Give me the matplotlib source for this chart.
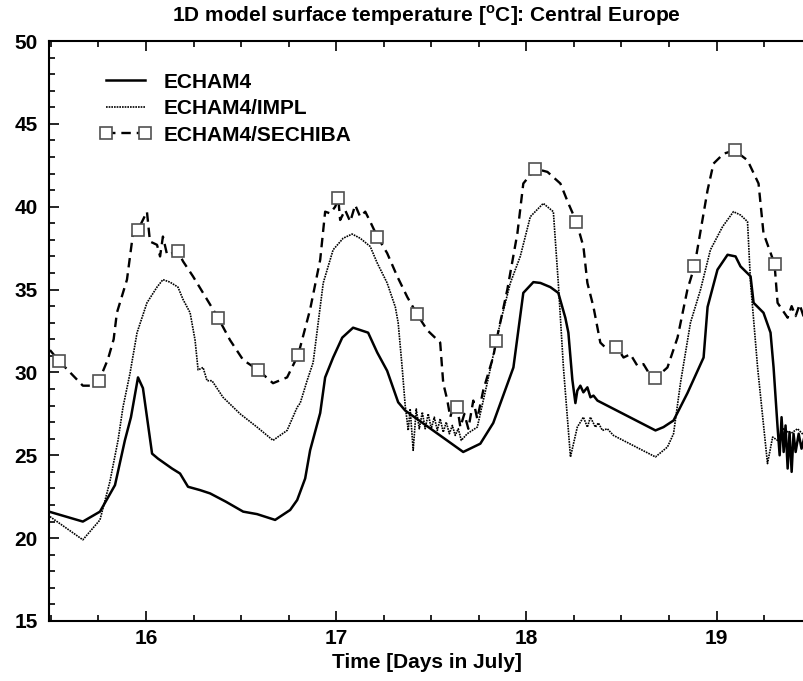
import matplotlib
matplotlib.use("Agg")
import matplotlib.pyplot as plt
from matplotlib.ticker import MultipleLocator

plt.rcParams['font.family'] = ['Liberation Sans', 'DejaVu Sans']
plt.rcParams['font.weight'] = 'bold'

# --- Daten ---
echam_day = [15.49, 15.668, 15.758, 15.837, 15.889, 15.921, 15.958, 15.984, 16.032, 16.063,
             16.137, 16.179, 16.221, 16.284, 16.337, 16.42, 16.511, 16.584, 16.679, 16.758,
             16.795, 16.837, 16.863, 16.916, 16.942, 16.984, 17.032, 17.089, 17.168, 17.216,
             17.268, 17.326, 17.363, 17.668, 17.758, 17.826, 17.932, 17.984, 18.037, 18.074,
             18.126, 18.168, 18.205, 18.221, 18.242, 18.258, 18.268, 18.284, 18.300, 18.321,
             18.337, 18.353, 18.374, 18.679, 18.721, 18.774, 18.847, 18.932, 18.953, 19.005,
             19.058, 19.100, 19.126, 19.179, 19.195, 19.247, 19.284, 19.300, 19.321, 19.332,
             19.342, 19.353, 19.363, 19.374, 19.384, 19.395, 19.405, 19.416, 19.432, 19.447, 19.46]
echam_t = [21.6, 21.0, 21.6, 23.2, 25.9, 27.3, 29.7, 29.05, 25.1, 24.8,
           24.2, 23.9, 23.1, 22.9, 22.7, 22.2, 21.6, 21.45, 21.1, 21.7,
           22.3, 23.6, 25.3, 27.55, 29.7, 30.9, 32.1, 32.7, 32.4, 31.2,
           30.1, 28.2, 27.7, 25.2, 25.7, 26.95, 30.3, 34.8, 35.45, 35.4,
           35.15, 34.8, 33.3, 32.4, 29.55, 28.15, 28.9, 29.2, 28.8, 29.1,
           28.5, 28.6, 28.3, 26.5, 26.7, 27.1, 28.75, 30.9, 33.95, 36.2,
           37.1, 37.0, 36.4, 35.8, 34.2, 33.6, 32.4, 30.3, 26.7, 25.0,
           27.3, 25.2, 26.8, 24.2, 26.4, 24.0, 26.3, 25.2, 26.3, 25.4, 26.0]

impl_day = [15.495, 15.668, 15.758, 15.81, 15.853, 15.879, 15.916, 15.953, 16.005, 16.058,
            16.089, 16.126, 16.168, 16.195, 16.232, 16.258, 16.274, 16.3, 16.321, 16.347,
            16.405, 16.495, 16.584, 16.668, 16.742, 16.795, 16.811, 16.847, 16.879, 16.932,
            16.984, 17.037, 17.084, 17.126, 17.179, 17.216, 17.268, 17.311, 17.326, 17.347,
            17.363, 17.379, 17.389, 17.405, 17.421, 17.437, 17.453, 17.468, 17.484, 17.5,
            17.516, 17.532, 17.547, 17.563, 17.579, 17.595, 17.611, 17.626, 17.642, 17.658,
            17.689, 17.742, 17.795, 17.863, 17.916, 17.968, 18.021, 18.089, 18.142, 18.168,
            18.195, 18.232, 18.268, 18.3, 18.321, 18.337, 18.363, 18.379, 18.4, 18.426,
            18.458, 18.679, 18.742, 18.774, 18.811, 18.863, 18.916, 18.968, 19.032, 19.089,
            19.126, 19.163, 19.179, 19.216, 19.268, 19.295, 19.321, 19.353, 19.389, 19.426, 19.46]
impl_t = [21.3, 19.9, 21.1, 23.4, 25.9, 27.9, 29.95, 32.4, 34.2, 35.15,
          35.6, 35.45, 35.15, 34.4, 33.6, 31.95, 30.15, 30.3, 29.5, 29.5,
          28.5, 27.5, 26.7, 25.9, 26.5, 27.9, 28.15, 29.5, 30.6, 35.4,
          37.4, 38.1, 38.35, 38.1, 37.6, 36.6, 35.4, 33.95, 33.0, 30.3,
          28.0, 26.5, 27.8, 25.3, 27.8, 26.6, 27.6, 26.6, 27.5, 26.6,
          27.3, 26.5, 27.2, 26.4, 27.0, 26.3, 26.8, 26.2, 26.6, 25.9,
          26.3, 26.7, 29.4, 33.0, 35.4, 37.0, 39.4, 40.2, 39.7, 35.4,
          30.3, 24.9, 26.7, 27.3, 26.7, 27.3, 26.7, 26.95, 26.5, 26.6,
          26.2, 24.9, 25.5, 26.3, 29.4, 33.0, 35.0, 37.4, 38.8, 39.7,
          39.5, 39.1, 35.4, 30.3, 24.5, 26.1, 25.9, 26.6, 26.3, 26.6, 26.2]

sech_day = [15.495, 15.542, 15.668, 15.721, 15.753, 15.8, 15.83, 15.847, 15.9, 15.932,
            15.958, 16.005, 16.021, 16.058, 16.074, 16.089, 16.111, 16.168, 16.195, 16.247,
            16.3, 16.379, 16.442, 16.511, 16.589, 16.668, 16.742, 16.8, 16.863, 16.916,
            16.942, 16.968, 16.995, 17.011, 17.021, 17.047, 17.074, 17.1, 17.126, 17.153,
            17.179, 17.216, 17.268, 17.321, 17.374, 17.426, 17.479, 17.547, 17.563, 17.584,
            17.6, 17.621, 17.637, 17.653, 17.674, 17.695, 17.721, 17.742, 17.774, 17.826,
            17.842, 17.9, 17.953, 17.984, 18.047, 18.111, 18.179, 18.221, 18.263, 18.3,
            18.321, 18.353, 18.389, 18.416, 18.474, 18.511, 18.547, 18.584, 18.616, 18.653,
            18.679, 18.742, 18.795, 18.847, 18.884, 18.953, 18.984, 19.037, 19.095, 19.163,
            19.221, 19.247, 19.305, 19.321, 19.374, 19.395, 19.416, 19.437, 19.46]
sech_t = [31.35, 30.7, 29.2, 29.2, 29.5, 30.8, 32.0, 33.6, 35.6, 38.4,
          38.6, 39.7, 37.9, 37.7, 37.0, 38.2, 37.1, 37.3, 36.7, 35.8,
          34.8, 33.3, 31.95, 30.75, 30.15, 29.35, 29.7, 31.05, 33.8, 36.8,
          39.7, 39.6, 40.0, 40.5, 39.2, 39.8, 39.1, 40.1, 39.4, 39.7,
          39.1, 38.2, 37.2, 35.8, 34.55, 33.5, 32.55, 31.8, 29.35, 28.35,
          27.3, 28.2, 27.9, 26.7, 27.5, 26.6, 28.3, 27.2, 28.95, 30.95,
          31.9, 35.0, 38.4, 41.4, 42.3, 42.1, 41.4, 40.2, 39.1, 37.6,
          35.4, 33.95, 31.8, 31.5, 31.55, 30.9, 31.1, 30.4, 30.5, 29.8,
          29.65, 30.3, 32.1, 35.0, 36.4, 41.0, 42.6, 43.2, 43.4, 42.8,
          41.4, 38.4, 36.55, 34.2, 33.3, 34.0, 33.4, 34.1, 33.3]

# Symbolpositionen fuer ECHAM4/SECHIBA
mark_day = [15.542, 15.753, 15.958, 16.168, 16.379, 16.589, 16.8, 17.011, 17.216, 17.426,
            17.637, 17.842, 18.047, 18.263, 18.474, 18.679, 18.884, 19.095, 19.305]
mark_t = [30.7, 29.5, 38.6, 37.3, 33.3, 30.15, 31.05, 40.5, 38.2, 33.5,
          27.9, 31.9, 42.3, 39.1, 31.55, 29.65, 36.4, 43.4, 36.55]

# --- Plot ---
fig = plt.figure(figsize=(8.04, 6.81), dpi=100)
ax = fig.add_axes([49 / 804, 60 / 681, 1 - 49 / 804, 580 / 681])

ax.plot(echam_day, echam_t, color='black', lw=1.8, label='ECHAM4')
ax.plot(impl_day, impl_t, color='black', lw=1.2, ls=(0, (1, 0.6)), label='ECHAM4/IMPL')
ax.plot(sech_day, sech_t, color='black', lw=1.7, ls=(0, (4, 2.5)))
ax.plot(mark_day, mark_t, ls='none', marker='s', ms=9, mfc='white', mec='#505050', mew=1.2)
# Legendeneintrag fuer SECHIBA (Linie mit Symbolen)
ax.plot([], [], color='black', lw=1.7, ls=(0, (4, 2.5)), marker='s', ms=9,
        mfc='white', mec='#505050', mew=1.2, label='ECHAM4/SECHIBA')

ax.set_xlim(15.49, 19.46)
ax.set_ylim(15, 50)
ax.xaxis.set_major_locator(MultipleLocator(1))
ax.xaxis.set_minor_locator(MultipleLocator(0.25))
ax.yaxis.set_major_locator(MultipleLocator(5))
ax.yaxis.set_minor_locator(MultipleLocator(1))
ax.tick_params(which='both', direction='in', top=True, right=False, width=1.2)
ax.tick_params(which='major', length=7, labelsize=15)
ax.tick_params(axis='y', which='major', pad=8)
ax.tick_params(axis='x', which='major', pad=6)
ax.tick_params(which='minor', length=4)
ax.spines['right'].set_visible(False)
for s in ['left', 'bottom', 'top']:
    ax.spines[s].set_linewidth(1.5)
for lab in ax.get_xticklabels() + ax.get_yticklabels():
    lab.set_fontweight('bold')

ax.set_title('1D model surface temperature [$^\\mathregular{o}$C]: Central Europe',
             fontsize=15, fontweight='bold', pad=14)
ax.set_xlabel('Time [Days in July]', fontsize=15, fontweight='bold', labelpad=3)

ax.legend(loc='upper left', bbox_to_anchor=(0.042, 0.978), frameon=False,
          prop={'size': 15, 'weight': 'bold'}, handlelength=2.5, numpoints=2,
          labelspacing=0.36, handletextpad=0.6)

fig.savefig('out.png', dpi=100)
